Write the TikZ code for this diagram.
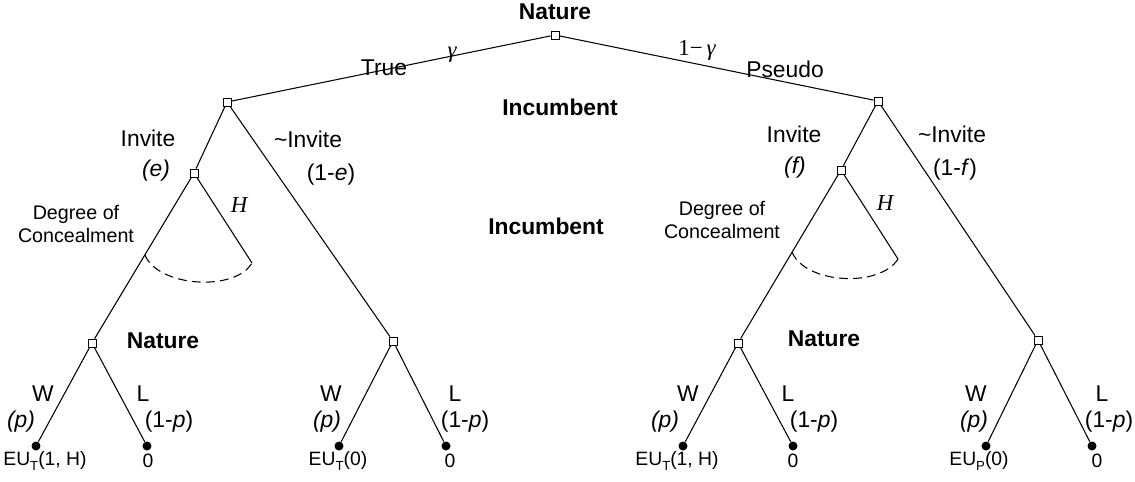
\documentclass[tikz,border=0pt]{standalone}
\usepackage{fontspec}
\setmainfont{Liberation Sans}
\newfontfamily\timesf{Liberation Serif}
\usepackage{tikz}

\newcommand{\lowsub}[1]{\raisebox{-0.55ex}{\fontsize{7.5}{8}\selectfont #1}}

\tikzset{
  choice/.style={draw, fill=white, line width=0.5pt, minimum size=0.16cm, inner sep=0pt},
  leaf/.style={circle, fill=black, minimum size=0.18cm, inner sep=0pt},
  lbl/.style={font=\fontsize{13}{15}\selectfont, inner sep=0pt},
  who/.style={font=\fontsize{13}{15}\selectfont\bfseries, inner sep=0pt},
  note/.style={font=\fontsize{11.2}{13.5}\selectfont, inner sep=0pt, align=center},
  pay/.style={font=\fontsize{11}{13}\selectfont, inner sep=0pt},
  gr/.style={font=\timesf\fontsize{13}{15}\selectfont\itshape, inner sep=0pt},
  edge/.style={line width=0.6pt},
}

\begin{document}
\begin{tikzpicture}[x=0.02cm, y=-0.02cm]
    \useasboundingbox (0,0) rectangle (1135,481);
    % players' moves
    \node[choice] (nat)   at ( 555, 35) {};
    \node[choice] (incT)  at ( 227,102) {};
    \node[choice] (incP)  at ( 878,101) {};
    \node[choice] (conT)  at ( 194,173) {};
    \node[choice] (conP)  at ( 841,170) {};
    \node[choice] (natTi) at (  92,343) {};
    \node[choice] (natTn) at ( 393,341) {};
    \node[choice] (natPi) at ( 738,343) {};
    \node[choice] (natPn) at (1038,340) {};
    \coordinate (hT) at (252,263);
    \coordinate (hP) at (898,259);
    \coordinate (aT) at (145,255);
    \coordinate (aP) at (792,252);
    % payoffs
    \node[leaf] (wTi) at (  36,446) {};
    \node[leaf] (lTi) at ( 147,446) {};
    \node[leaf] (wTn) at ( 339,446) {};
    \node[leaf] (lTn) at ( 446,446) {};
    \node[leaf] (wPi) at ( 683,446) {};
    \node[leaf] (lPi) at ( 793,446) {};
    \node[leaf] (wPn) at ( 986,446) {};
    \node[leaf] (lPn) at (1092,446) {};

    \draw[edge] (nat) -- (incT);
    \draw[edge] (nat) -- (incP);
    \draw[edge] (incT) -- (conT);
    \draw[edge] (conT) -- (natTi);
    \draw[edge] (incT) -- (natTn);
    \draw[edge] (incP) -- (conP);
    \draw[edge] (conP) -- (natPi);
    \draw[edge] (incP) -- (natPn);
    \draw[edge] (conT) -- (hT);
    \draw[edge] (conP) -- (hP);
    \draw[edge] (natTi) -- (wTi);
    \draw[edge] (natTi) -- (lTi);
    \draw[edge] (natTn) -- (wTn);
    \draw[edge] (natTn) -- (lTn);
    \draw[edge] (natPi) -- (wPi);
    \draw[edge] (natPi) -- (lPi);
    \draw[edge] (natPn) -- (wPn);
    \draw[edge] (natPn) -- (lPn);
    \draw[edge, dash pattern=on 5pt off 3pt] (aT) .. controls (158,287) and (235,292) .. (hT);
    \draw[edge, dash pattern=on 5pt off 3pt] (aP) .. controls (805,284) and (880,288) .. (hP);

    % who moves
    \node[who] (tNat)  at ( 555, 12) {Nature};
    \node[who] (tInc)  at ( 560,107) {Incumbent};
    \node[who] (tInc2) at ( 546,226) {Incumbent};
    \node[who] (tNatT) at ( 163,341) {Nature};
    \node[who] (tNatP) at ( 824,339) {Nature};
    % branch labels
    \node[lbl] (tTrue) at ( 384, 68) {True};
    \node[gr]  (tG)    at ( 452, 55) {γ};
    \node[gr]  (tG1)   at ( 697, 50) {\upshape 1−\,\itshape γ};
    \node[lbl] (tPs)   at ( 785, 69) {Pseudo};
    \node[lbl] (tInvT) at ( 148,138) {Invite};
    \node[lbl] (tE)    at ( 156,171) {\textit{(e)}};
    \node[lbl] (tNoT)  at ( 308,139) {\textasciitilde Invite};
    \node[lbl] (tE1)   at ( 331,175) {(1-\textit{e})};
    \node[lbl] (tInvP) at ( 794,134) {Invite};
    \node[lbl] (tF)    at ( 795,168) {\textit{(f)}};
    \node[lbl] (tNoP)  at ( 952,134) {\textasciitilde Invite};
    \node[lbl] (tF1)   at ( 955,170) {(1-\textit{f})};
    \node[note] (tDegT) at (  76,224) {Degree of\\Concealment};
    \node[note] (tDegP) at ( 722,220) {Degree of\\Concealment};
    \node[gr]  (tHT)   at ( 239,205) {H};
    \node[gr]  (tHP)   at ( 885,203) {H};
    % win / lose
    \node[lbl] (w1) at (  43,394) {W};
    \node[lbl] (p1) at (  21,422) {\textit{(p)}};
    \node[lbl] (l1) at ( 143,394) {L};
    \node[lbl] (q1) at ( 169,422) {(1-\textit{p})};
    \node[lbl] (w2) at ( 331,394) {W};
    \node[lbl] (p2) at ( 327,422) {\textit{(p)}};
    \node[lbl] (l2) at ( 455,394) {L};
    \node[lbl] (q2) at ( 465,422) {(1-\textit{p})};
    \node[lbl] (w3) at ( 688,394) {W};
    \node[lbl] (p3) at ( 665,422) {\textit{(p)}};
    \node[lbl] (l3) at ( 788,394) {L};
    \node[lbl] (q3) at ( 814,422) {(1-\textit{p})};
    \node[lbl] (w4) at ( 976,394) {W};
    \node[lbl] (p4) at ( 974,422) {\textit{(p)}};
    \node[lbl] (l4) at (1102,394) {L};
    \node[lbl] (q4) at (1109,422) {(1-\textit{p})};
    % payoffs
    \node[pay] (u1) at (  45,461) {EU\lowsub{T}(1, H)};
    \node[pay] (u2) at ( 148,461) {0};
    \node[pay] (u3) at ( 338,461) {EU\lowsub{T}(0)};
    \node[pay] (u4) at ( 450,461) {0};
    \node[pay] (u5) at ( 677,461) {EU\lowsub{T}(1, H)};
    \node[pay] (u6) at ( 793,461) {0};
    \node[pay] (u7) at ( 979,461) {EU\lowsub{P}(0)};
    \node[pay] (u8) at (1097,461) {0};
\end{tikzpicture}
\end{document}
